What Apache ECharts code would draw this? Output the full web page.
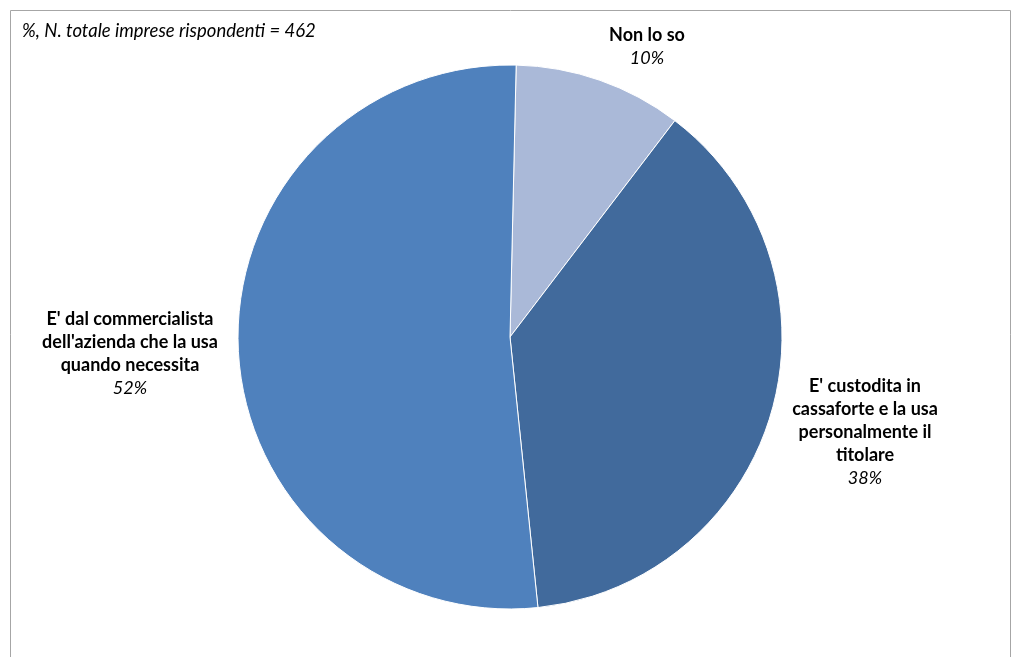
<!DOCTYPE html>
<html><head><meta charset="utf-8">
<script src="https://cdn.jsdelivr.net/npm/echarts@6/dist/echarts.min.js"></script>
<style>html,body{margin:0;padding:0;background:#fff}#c{width:1013px;height:657px}</style>
</head><body><div id="c"></div>
<script>
const categories = ["Non lo so", "E' custodita in\ncassaforte e la usa\npersonalmente il\ntitolare", "E' dal commercialista\ndell'azienda che la usa\nquando necessita"];
const values = [10, 38, 52];
const colors = ['#aab9d8', '#416a9c', '#4f81bd'];
const subtitle = '%, N. totale imprese rispondenti = 462';

const labelPos = [[647, 47], [865, 432], [130, 354]];
const FONT = 'Lato';
const chart = echarts.init(document.getElementById('c'));
chart.setOption({
  animation: false,
  graphic: [
    {type: 'rect', shape: {x: 10.5, y: 10.5, width: 1000, height: 700}, style: {fill: 'none', stroke: '#a6a6a6', lineWidth: 1}},
    {type: 'text', left: 22, top: 22, style: {text: subtitle, font: 'italic 18.5px ' + FONT, fill: '#000'}}
  ],
  series: [{
    type: 'pie',
    center: [510, 337],
    radius: [0, 272],
    startAngle: 88.7,
    clockwise: true,
    itemStyle: {borderColor: '#fff', borderWidth: 1},
    label: {
      show: true,
      position: 'outside',
      formatter: p => '{b|' + p.name.split('\n').join('}\n{b|') + '}\n{p|' + p.value + '%}',
      rich: {
        b: {fontFamily: FONT, fontWeight: 'bold', fontSize: 18, color: '#000', lineHeight: 23, align: 'center'},
        p: {fontFamily: FONT, fontStyle: 'italic', fontSize: 18, color: '#000', lineHeight: 23, align: 'center'}
      }
    },
    labelLine: {show: false},
    labelLayout: p => ({x: labelPos[p.dataIndex][0], y: labelPos[p.dataIndex][1], align: 'center', verticalAlign: 'middle'}),
    data: categories.map((c, i) => ({name: c, value: values[i], itemStyle: {color: colors[i]}}))
  }]
});
</script></body></html>
